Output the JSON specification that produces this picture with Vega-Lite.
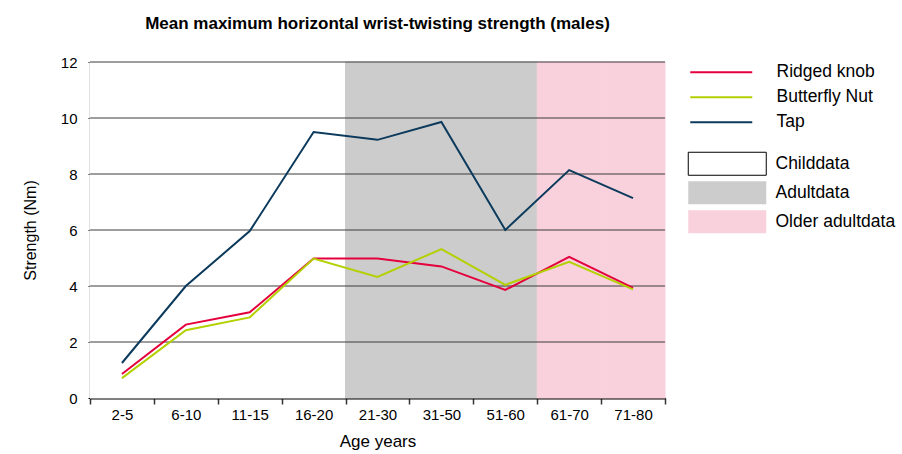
{
  "$schema": "https://vega.github.io/schema/vega-lite/v6.json",
  "width": 575,
  "height": 336,
  "autosize": "none",
  "padding": {"left": 90, "top": 62, "right": 237, "bottom": 56},
  "background": "#ffffff",
  "config": {
    "font": "Liberation Sans",
    "view": {"stroke": null},
    "axis": {"labelFont": "Liberation Sans", "titleFont": "Liberation Sans", "labelFontSize": 15, "titleFontSize": 17, "titleFontWeight": "normal", "labelColor": "#000000", "titleColor": "#000000", "zindex": 1},
    "legend": {"labelFont": "Liberation Sans", "labelFontSize": 17.5, "labelColor": "#000000", "padding": 0}
  },
  "title": {
    "text": "Mean maximum horizontal wrist-twisting strength (males)",
    "anchor": "middle",
    "frame": "group",
    "font": "Liberation Sans",
    "fontSize": 17,
    "fontWeight": "bold",
    "color": "#000000",
    "offset": 22
  },
  "datasets": {
    "bg": [
      {"age": "2-5", "region": "Childdata"},
      {"age": "6-10", "region": "Childdata"},
      {"age": "11-15", "region": "Childdata"},
      {"age": "16-20", "region": "Childdata"},
      {"age": "21-30", "region": "Adultdata"},
      {"age": "31-50", "region": "Adultdata"},
      {"age": "51-60", "region": "Adultdata"},
      {"age": "61-70", "region": "Older adultdata"},
      {"age": "71-80", "region": "Older adultdata"}
    ],
    "grid": [{"v": 2}, {"v": 4}, {"v": 6}, {"v": 8}, {"v": 10}, {"v": 12}],
    "strength": [
      {"age": "2-5", "series": "Ridged knob", "value": 0.86},
      {"age": "6-10", "series": "Ridged knob", "value": 2.62},
      {"age": "11-15", "series": "Ridged knob", "value": 3.06},
      {"age": "16-20", "series": "Ridged knob", "value": 4.98},
      {"age": "21-30", "series": "Ridged knob", "value": 4.98},
      {"age": "31-50", "series": "Ridged knob", "value": 4.7},
      {"age": "51-60", "series": "Ridged knob", "value": 3.86},
      {"age": "61-70", "series": "Ridged knob", "value": 5.04},
      {"age": "71-80", "series": "Ridged knob", "value": 3.93},
      {"age": "2-5", "series": "Butterfly Nut", "value": 0.71},
      {"age": "6-10", "series": "Butterfly Nut", "value": 2.42},
      {"age": "11-15", "series": "Butterfly Nut", "value": 2.88},
      {"age": "16-20", "series": "Butterfly Nut", "value": 4.98},
      {"age": "21-30", "series": "Butterfly Nut", "value": 4.32},
      {"age": "31-50", "series": "Butterfly Nut", "value": 5.32},
      {"age": "51-60", "series": "Butterfly Nut", "value": 4.04},
      {"age": "61-70", "series": "Butterfly Nut", "value": 4.86},
      {"age": "71-80", "series": "Butterfly Nut", "value": 3.88},
      {"age": "2-5", "series": "Tap", "value": 1.25},
      {"age": "6-10", "series": "Tap", "value": 4.0},
      {"age": "11-15", "series": "Tap", "value": 5.96},
      {"age": "16-20", "series": "Tap", "value": 9.5},
      {"age": "21-30", "series": "Tap", "value": 9.22},
      {"age": "31-50", "series": "Tap", "value": 9.86},
      {"age": "51-60", "series": "Tap", "value": 6.0},
      {"age": "61-70", "series": "Tap", "value": 8.14},
      {"age": "71-80", "series": "Tap", "value": 7.14}
    ]
  },
  "layer": [
    {
      "data": {"name": "bg"},
      "mark": {"type": "rect", "strokeWidth": 1},
      "encoding": {
        "x": {
          "field": "age", "type": "nominal",
          "sort": ["2-5", "6-10", "11-15", "16-20", "21-30", "31-50", "51-60", "61-70", "71-80"],
          "scale": {"type": "band", "paddingInner": 0, "paddingOuter": 0},
          "axis": {"title": "Age years", "labelAngle": 0, "tickBand": "extent", "tickSize": 6, "tickColor": "#333333", "tickWidth": 1.5, "domainColor": "#000000", "domainWidth": 2, "labelPadding": 3, "titlePadding": 11, "grid": false}
        },
        "y": {
          "datum": 12, "type": "quantitative",
          "scale": {"domain": [0, 12], "nice": false},
          "axis": {"title": "Strength (Nm)", "titleFontSize": 16, "values": [0, 2, 4, 6, 8, 10, 12], "grid": false, "tickSize": 2, "tickColor": "#000000", "domainColor": "#000000", "domainWidth": 1.5, "labelPadding": 11, "titlePadding": 22}
        },
        "y2": {"datum": 0},
        "fill": {
          "field": "region", "type": "nominal",
          "scale": {"domain": ["Childdata", "Adultdata", "Older adultdata"], "range": ["#ffffff", "#cccccc", "#f8d1dd"]},
          "legend": {
            "orient": "none", "legendX": 628.5, "legendY": 93, "title": null,
            "symbolType": "M-7.8,-2.3H7.8V2.3H-7.8Z", "symbolSize": 100,
            "labelOffset": 39.5, "rowPadding": 1, "symbolOpacity": 1,
            "encode": {"symbols": {"update": {"stroke": [{"test": "datum.value === 'Childdata'", "value": "#000000"}, {"value": "transparent"}], "strokeWidth": {"value": 1}}}}
          }
        },
        "stroke": {
          "field": "region", "type": "nominal",
          "scale": {"domain": ["Childdata", "Adultdata", "Older adultdata"], "range": ["#ffffff", "#cccccc", "#f8d1dd"]},
          "legend": null
        }
      }
    },
    {
      "data": {"name": "grid"},
      "mark": {"type": "rule", "color": "#3c3c3c", "strokeWidth": 1},
      "encoding": {"y": {"field": "v", "type": "quantitative", "axis": {"title": "Strength (Nm)"}}}
    },
    {
      "data": {"name": "strength"},
      "mark": {"type": "line", "strokeWidth": 2},
      "encoding": {
        "x": {"field": "age", "type": "nominal", "sort": ["2-5", "6-10", "11-15", "16-20", "21-30", "31-50", "51-60", "61-70", "71-80"]},
        "y": {"field": "value", "type": "quantitative", "axis": {"title": "Strength (Nm)"}},
        "stroke": {
          "field": "series", "type": "nominal",
          "scale": {"domain": ["Ridged knob", "Butterfly Nut", "Tap"], "range": ["#e4003c", "#b4d000", "#0c3a5c"]},
          "legend": {"orient": "none", "legendX": 622.5, "legendY": 1.5, "title": null, "symbolType": "M-6.2,0H6.2", "symbolSize": 100, "symbolStrokeWidth": 2, "labelOffset": 46.5, "rowPadding": 6}
        }
      }
    }
  ],
  "resolve": {"scale": {"stroke": "independent"}}
}
